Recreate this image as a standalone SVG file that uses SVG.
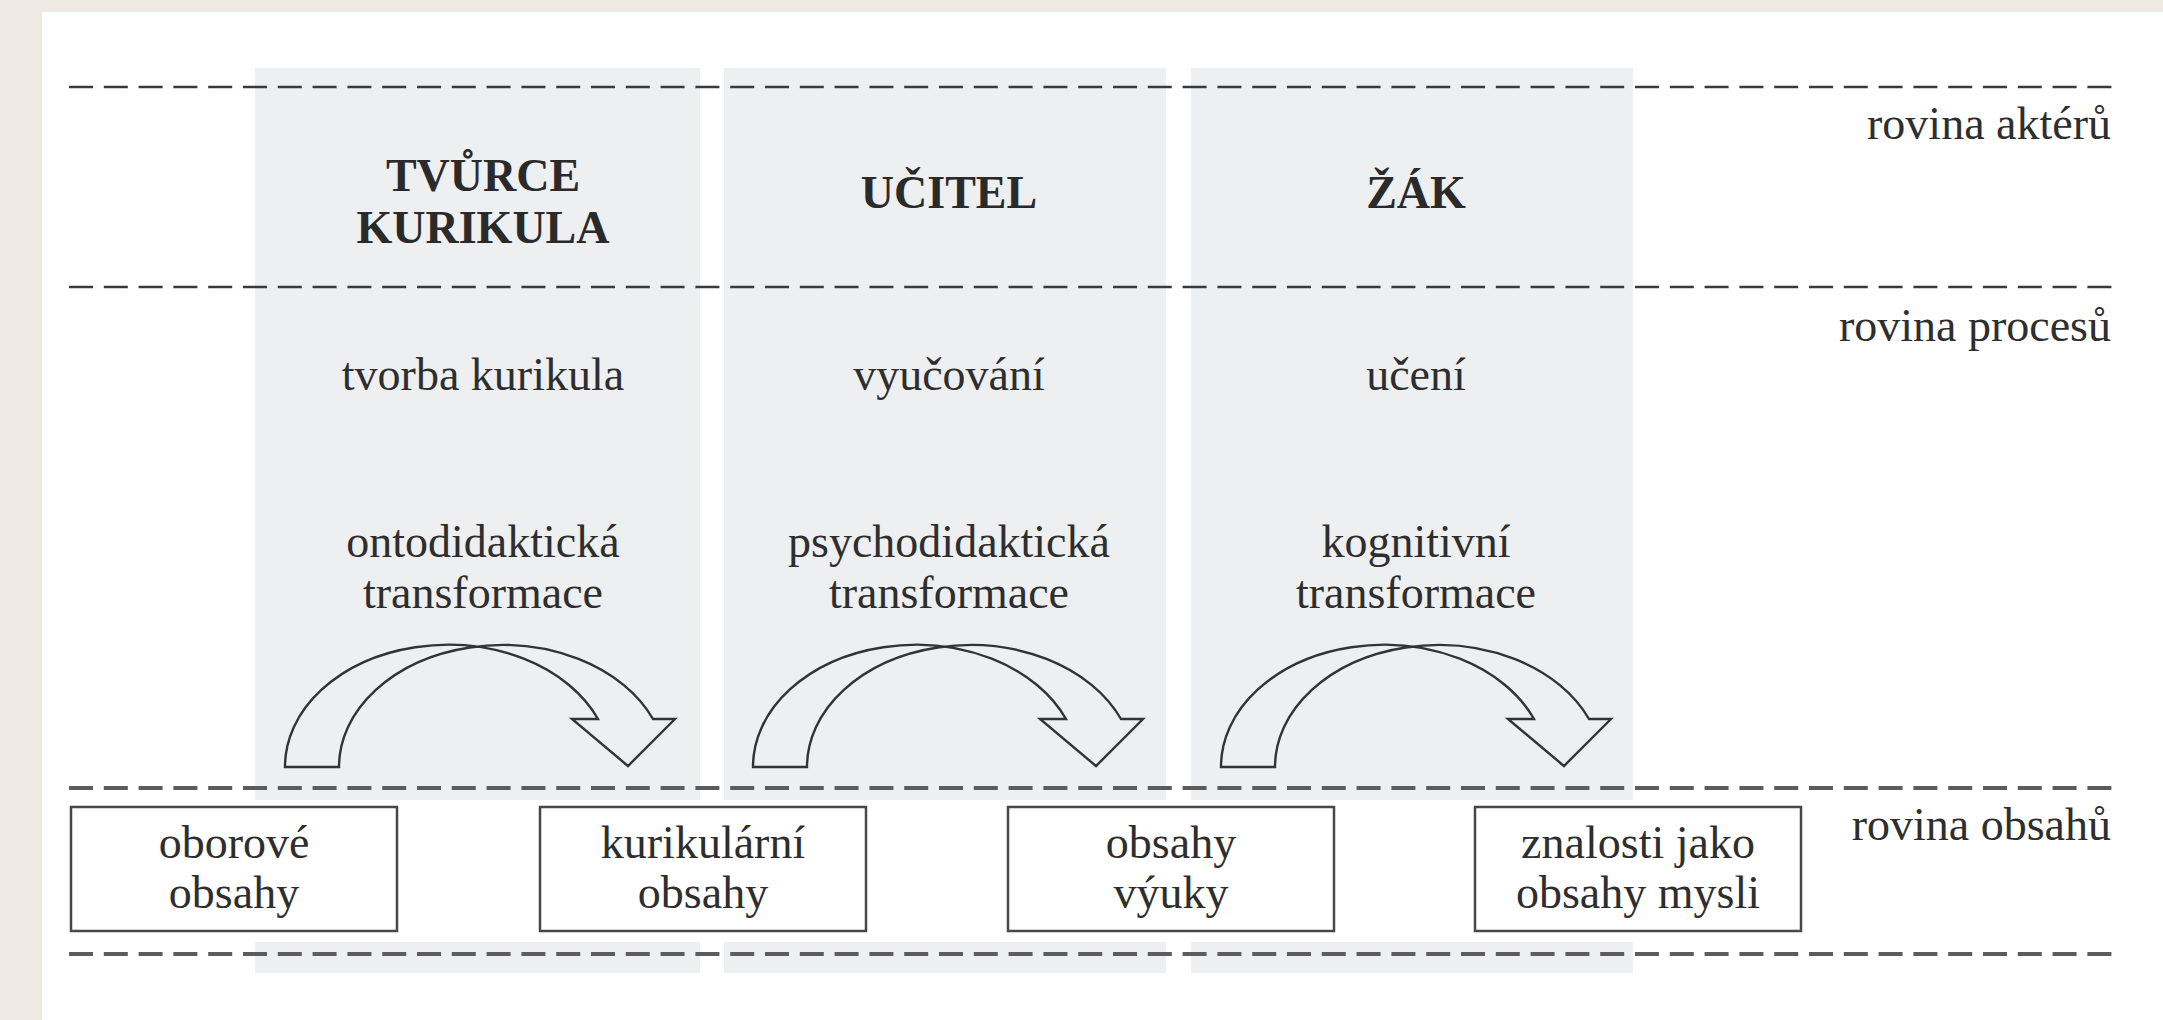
<svg xmlns="http://www.w3.org/2000/svg" width="2163" height="1020" viewBox="0 0 2163 1020">
  <defs>
    <style>
      .col { fill: #eeeff1; }
      .dash-top { stroke: #3a3a3a; stroke-width: 2.6; stroke-dasharray: 24 10.8; fill: none; }
      .dash-bot { stroke: #5c5c5c; stroke-width: 4; stroke-dasharray: 24 10.8; fill: none; }
      .t { font-family: "Liberation Serif", "Times New Roman", serif; font-size: 46px; fill: #2e2e2e; text-anchor: middle; }
      .b { font-family: "Liberation Serif", "Times New Roman", serif; font-size: 46px; font-weight: bold; fill: #2a2a2a; text-anchor: middle; }
      .side { font-family: "Liberation Serif", "Times New Roman", serif; font-size: 46px; fill: #2e2e2e; text-anchor: end; }
      .box { fill: #ffffff; stroke: #474747; stroke-width: 2.5; }
      .arrow { fill: none; stroke: #333333; stroke-width: 2.4; stroke-linejoin: miter; }
    </style>
    <path id="curved-arrow" d="M 285,767 A 163,122 0 0 1 598,719 L 572,719 L 628,766 L 675,719 L 653,719 A 163.6,122 0 0 0 339,767 Z"/>
  </defs>

  <!-- page background -->
  <rect x="0" y="0" width="2163" height="1020" fill="#eeeae3"/>
  <rect x="42" y="12" width="2121" height="1008" fill="#ffffff"/>

  <!-- columns -->
  <g id="columns">
    <rect class="col" x="255" y="68" width="445" height="732"/>
    <rect class="col" x="255" y="942" width="445" height="31"/>
    <rect class="col" x="724" y="68" width="442" height="732"/>
    <rect class="col" x="724" y="942" width="442" height="31"/>
    <rect class="col" x="1191" y="68" width="442" height="732"/>
    <rect class="col" x="1191" y="942" width="442" height="31"/>
  </g>

  <!-- plane separators -->
  <g id="planes">
    <line class="dash-top" x1="69" y1="87" x2="2112" y2="87"/>
    <line class="dash-top" x1="69" y1="287" x2="2112" y2="287"/>
    <line class="dash-bot" x1="69" y1="788" x2="2112" y2="788"/>
    <line class="dash-bot" x1="69" y1="954" x2="2112" y2="954"/>
    <text class="side" x="2111" y="139">rovina aktérů</text>
    <text class="side" x="2111" y="341">rovina procesů</text>
    <text class="side" x="2111" y="840">rovina obsahů</text>
  </g>

  <!-- actors / processes / transformations -->
  <g id="tvurce-kurikula">
    <text class="b" x="483" y="191">TVŮRCE</text>
    <text class="b" x="483" y="243">KURIKULA</text>
    <text class="t" x="483" y="390">tvorba kurikula</text>
    <text class="t" x="483" y="557">ontodidaktická</text>
    <text class="t" x="483" y="608">transformace</text>
  </g>
  <g id="ucitel">
    <text class="b" x="949" y="208">UČITEL</text>
    <text class="t" x="949" y="390">vyučování</text>
    <text class="t" x="949" y="557">psychodidaktická</text>
    <text class="t" x="949" y="608">transformace</text>
  </g>
  <g id="zak">
    <text class="b" x="1416" y="208">ŽÁK</text>
    <text class="t" x="1416" y="390">učení</text>
    <text class="t" x="1416" y="557">kognitivní</text>
    <text class="t" x="1416" y="608">transformace</text>
  </g>

  <!-- content boxes -->
  <g id="oborove-obsahy">
    <rect class="box" x="71" y="807" width="326" height="124"/>
    <text class="t" x="234" y="858">oborové</text>
    <text class="t" x="234" y="908">obsahy</text>
  </g>
  <g id="kurikularni-obsahy">
    <rect class="box" x="540" y="807" width="326" height="124"/>
    <text class="t" x="703" y="858">kurikulární</text>
    <text class="t" x="703" y="908">obsahy</text>
  </g>
  <g id="obsahy-vyuky">
    <rect class="box" x="1008" y="807" width="326" height="124"/>
    <text class="t" x="1171" y="858">obsahy</text>
    <text class="t" x="1171" y="908">výuky</text>
  </g>
  <g id="znalosti">
    <rect class="box" x="1475" y="807" width="326" height="124"/>
    <text class="t" x="1638" y="858">znalosti jako</text>
    <text class="t" x="1638" y="908">obsahy mysli</text>
  </g>

  <!-- connectors: curved transformation arrows -->
  <g id="connectors">
    <use href="#curved-arrow" class="arrow"/>
    <use href="#curved-arrow" class="arrow" transform="translate(468,0)"/>
    <use href="#curved-arrow" class="arrow" transform="translate(936,0)"/>
  </g>
</svg>
